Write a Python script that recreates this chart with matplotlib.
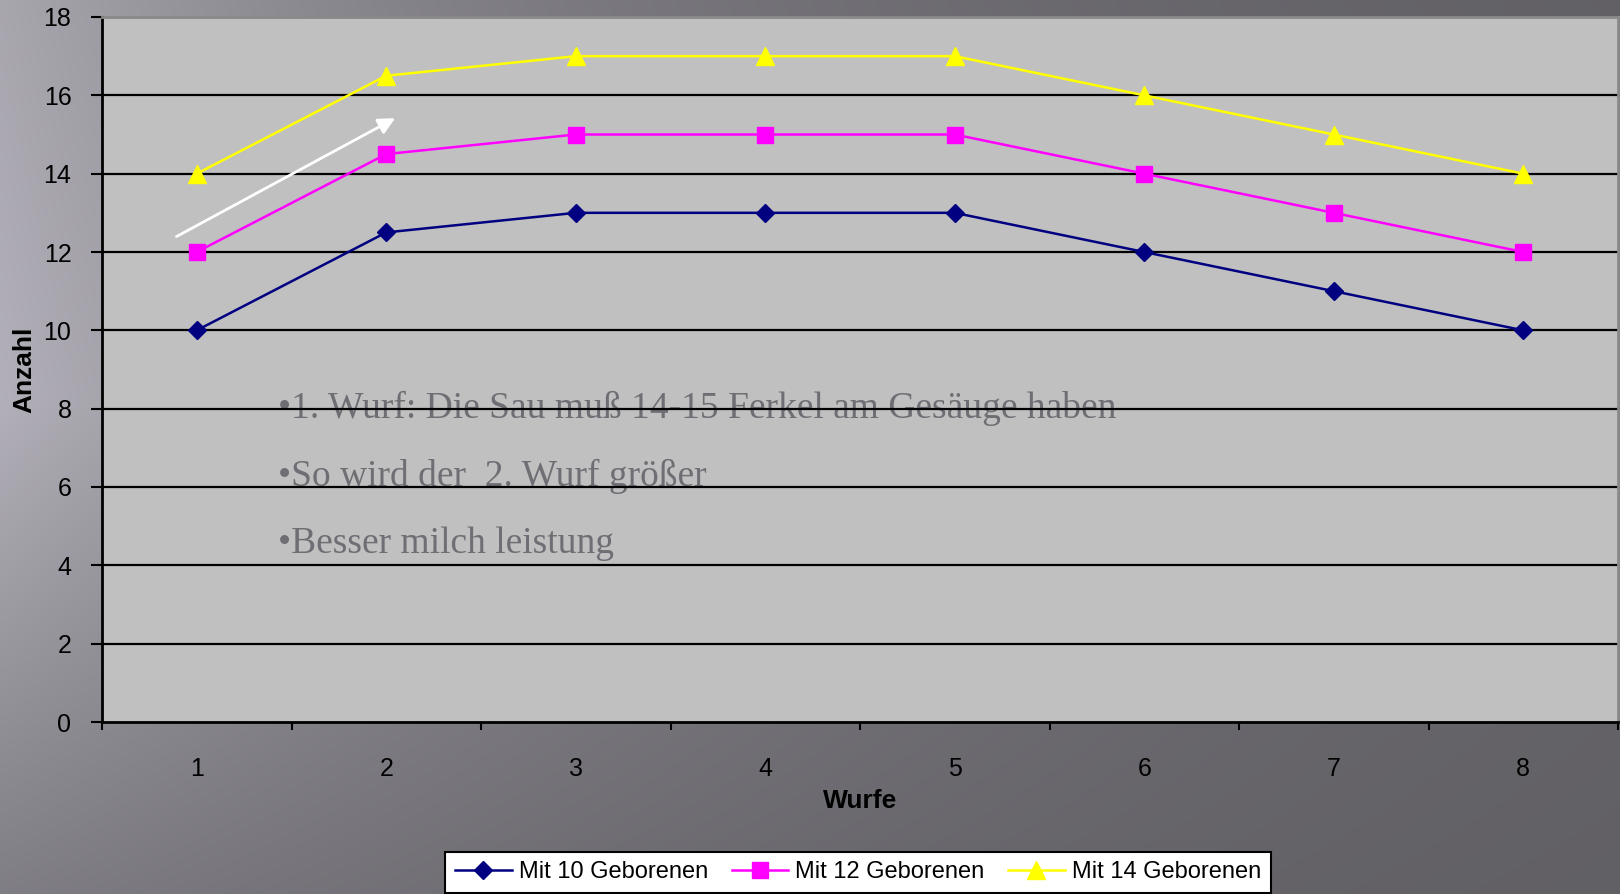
import numpy as np
import matplotlib
matplotlib.use("Agg")
import matplotlib.pyplot as plt

wurfe = [1, 2, 3, 4, 5, 6, 7, 8]
mit10 = [10, 12.5, 13, 13, 13, 12, 11, 10]
mit12 = [12, 14.5, 15, 15, 15, 14, 13, 12]
mit14 = [14, 16.5, 17, 17, 17, 16, 15, 14]
labels = ["Mit 10 Geborenen", "Mit 12 Geborenen", "Mit 14 Geborenen"]
notes = ["•1. Wurf: Die Sau muß 14-15 Ferkel am Gesäuge haben",
         "•So wird der  2. Wurf größer",
         "•Besser milch leistung"]

plt.rcParams['font.family'] = ['Liberation Sans', 'DejaVu Sans']

fig = plt.figure(figsize=(16.2, 8.94), dpi=100)

# dark gradient background (light at left, fading to dark at right)
bg = fig.add_axes([0, 0, 1, 1], zorder=-10)
yy, xx = np.mgrid[0:1:200j, 0:1:360j]
left = np.interp(yy, [0, 0.45, 1], [168, 178, 128])
decay = np.interp(yy, [0, 1], [0.40, 0.53])
v = (92 + (left - 92) * np.exp(-xx / decay)) / 255.0
rgb = np.dstack([v, v * 0.985, v * 1.035]).clip(0, 1)
bg.imshow(rgb, aspect='auto', extent=[0, 1, 0, 1], interpolation='bilinear')
bg.axis('off')

ax = fig.add_axes([102 / 1620, 1 - 722 / 894, 1516 / 1620, 705 / 894])
ax.set_facecolor('#c0c0c0')

ax.plot(wurfe, mit10, color='#000080', marker='D', markersize=9, lw=1.8, label=labels[0])
ax.plot(wurfe, mit12, color='#ff00ff', marker='s', markersize=12, lw=1.8, label=labels[1])
ax.plot(wurfe, mit14, color='#ffff00', marker='^', markersize=13, lw=1.8, label=labels[2])

ax.set_xlim(0.5, 8.5)
ax.set_ylim(0, 18)
ax.set_yticks(range(0, 19, 2))
ax.set_xticks(wurfe)
ax.set_xticks(np.arange(0.5, 8.6, 1), minor=True)
ax.tick_params(axis='x', which='major', length=0, pad=25, labelsize=18)
ax.tick_params(axis='x', which='minor', length=6, width=1.5, direction='out')
ax.tick_params(axis='y', length=8, width=1.5, direction='out', labelsize=18, pad=14)
for y in range(2, 19, 2):
    ax.axhline(y, color='black', lw=1.6, zorder=1)

for s in ['left', 'bottom']:
    ax.spines[s].set_linewidth(2)
    ax.spines[s].set_color('black')
for s in ['top', 'right']:
    ax.spines[s].set_color('#8a8a8a')
    ax.spines[s].set_linewidth(2)

ax.set_xlabel('Wurfe', fontsize=19, fontweight='bold', labelpad=6)
ax.set_ylabel('Anzahl', fontsize=19, fontweight='bold', labelpad=5)

for txt, yv in zip(notes, [8.0, 6.27, 4.54]):
    ax.text(1.43, yv, txt, fontsize=27, color='#6e6e74', va='center', ha='left',
            family=['Liberation Serif', 'DejaVu Serif'], zorder=0.5)

ax.annotate('', xy=(2.06, 15.45), xytext=(0.88, 12.36),
            arrowprops=dict(arrowstyle='-|>', color='white', lw=2, mutation_scale=25))

leg = fig.legend(loc='lower center', bbox_to_anchor=(858 / 1620, -0.012), ncol=3,
                 fontsize=17, frameon=True, fancybox=False, edgecolor='black',
                 handlelength=2.4, columnspacing=1.0, handletextpad=0.3, borderpad=0.4)
leg.get_frame().set_linewidth(1.5)
leg.get_frame().set_facecolor('white')
leg.get_frame().set_alpha(1)

fig.savefig('out.png', dpi=100)
